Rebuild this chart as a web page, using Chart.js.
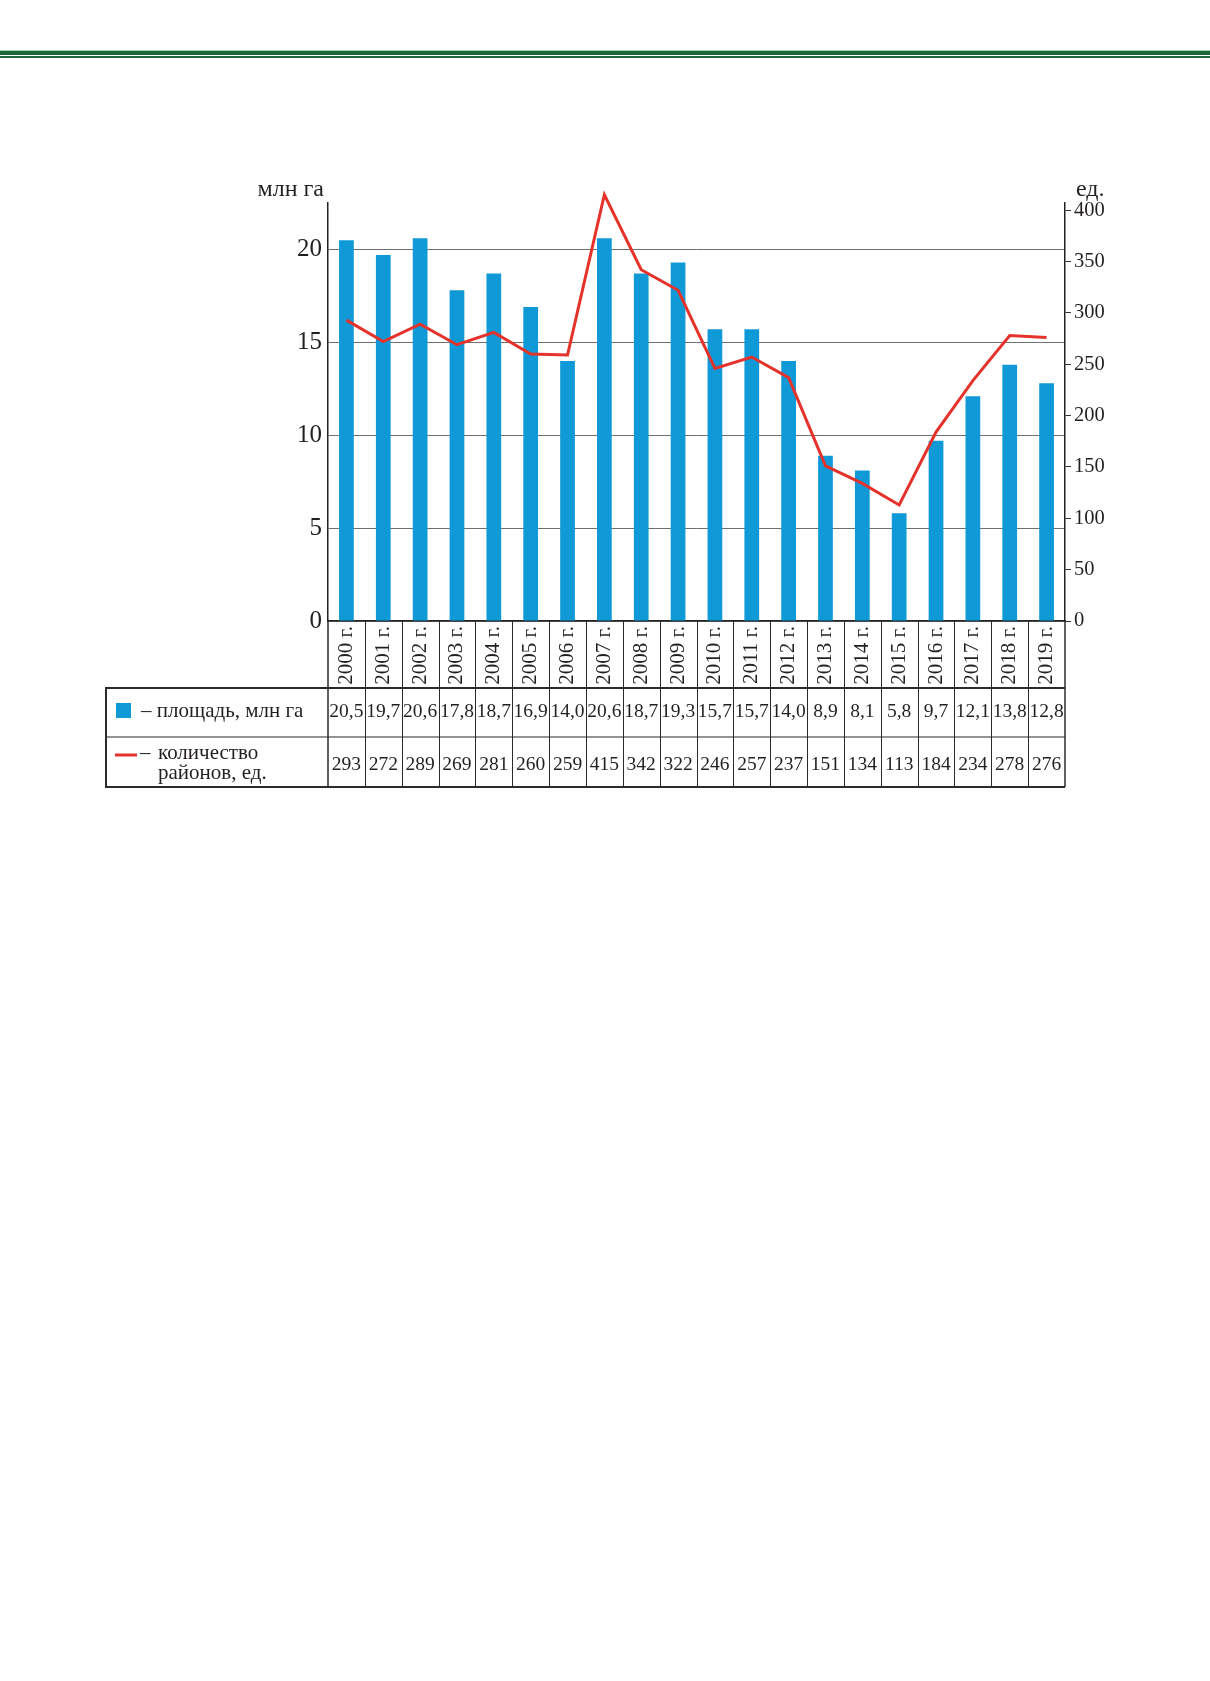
<!DOCTYPE html>
<html lang="ru">
<head>
<meta charset="utf-8">
<title>Площадь и количество районов</title>
<script src="https://cdn.jsdelivr.net/npm/chart.js@4.4.1/dist/chart.umd.min.js"></script>
<style>
  html, body { margin: 0; padding: 0; background: #fff; }
  body { width: 1210px; height: 1681px; position: relative; overflow: hidden; }
  .rule-thick { position: absolute; left: 0; top: 50px; width: 1210px; height: 4px; background: #17693b; border-top: 1px solid #9fd4ae; }
  .rule-thin { position: absolute; left: 0; top: 56px; width: 1210px; height: 2px; background: #1f6a45; }
  #wrap { position: absolute; left: 0; top: 0; width: 1210px; height: 820px; }
</style>
</head>
<body>
<div class="rule-thick"></div>
<div class="rule-thin"></div>
<div id="wrap"><canvas id="chart" width="1210" height="820"></canvas></div>
<script>
const years = [2000, 2001, 2002, 2003, 2004, 2005, 2006, 2007, 2008, 2009,
  2010, 2011, 2012, 2013, 2014, 2015, 2016, 2017, 2018, 2019];
const yearLabels = years.map((y) => `${y} г.`);
const areaValues = [20.5, 19.7, 20.6, 17.8, 18.7, 16.9, 14.0, 20.6, 18.7, 19.3,
  15.7, 15.7, 14.0, 8.9, 8.1, 5.8, 9.7, 12.1, 13.8, 12.8];
const districtCounts = [293, 272, 289, 269, 281, 260, 259, 415, 342, 322,
  246, 257, 237, 151, 134, 113, 184, 234, 278, 276];
const leftTicks = [0, 5, 10, 15, 20];
const rightTicks = [0, 50, 100, 150, 200, 250, 300, 350, 400];

const SERIF = '"Liberation Serif", "Times New Roman", serif';
const INK = "#231f20";
const BLUE = "#0f9ad7";
const RED = "#e5322a";

function fmtArea(v) {
  return v.toFixed(1).replace(".", ",");
}

// axis captions + data table under the x axis
const tablePlugin = {
  id: "tablePlugin",
  afterDraw(chart) {
    const { ctx, chartArea, scales } = chart;
    const x = scales.x;
    const step = x.getPixelForValue(1) - x.getPixelForValue(0);
    const axisY = chartArea.bottom;
    const tableTop = axisY + 67;
    const rowMid = tableTop + 49;
    const tableBottom = rowMid + 50;
    const tableLeft = 106;

    ctx.save();

    // captions above the axes
    ctx.fillStyle = INK;
    ctx.font = `24px ${SERIF}`;
    ctx.textBaseline = "alphabetic";
    ctx.textAlign = "right";
    ctx.fillText("млн га", chartArea.left - 4, 196);
    ctx.textAlign = "left";
    ctx.fillText("ед.", chartArea.right + 11, 196);

    // vertical separators
    ctx.strokeStyle = "#2b2b2b";
    ctx.lineWidth = 1;
    for (let i = 1; i < years.length; i++) {
      const px = Math.round(x.getPixelForValue(i) - step / 2) + 0.5;
      ctx.beginPath();
      ctx.moveTo(px, axisY);
      ctx.lineTo(px, tableBottom);
      ctx.stroke();
    }
    ctx.lineWidth = 1.5;
    [chartArea.left, chartArea.right].forEach((px) => {
      ctx.beginPath();
      ctx.moveTo(px, axisY);
      ctx.lineTo(px, tableBottom);
      ctx.stroke();
    });

    // horizontal rules + outer frame
    ctx.lineWidth = 1.2;
    ctx.beginPath();
    ctx.moveTo(tableLeft, rowMid);
    ctx.lineTo(chartArea.right, rowMid);
    ctx.stroke();
    ctx.lineWidth = 2;
    ctx.beginPath();
    ctx.moveTo(tableLeft, tableTop);
    ctx.lineTo(chartArea.right, tableTop);
    ctx.moveTo(tableLeft, tableBottom);
    ctx.lineTo(chartArea.right, tableBottom);
    ctx.moveTo(tableLeft, tableTop - 1);
    ctx.lineTo(tableLeft, tableBottom + 1);
    ctx.stroke();

    // legend cells
    ctx.fillStyle = BLUE;
    ctx.fillRect(116, tableTop + 15, 15, 15);
    ctx.strokeStyle = RED;
    ctx.lineWidth = 3;
    ctx.beginPath();
    ctx.moveTo(115, rowMid + 18);
    ctx.lineTo(137, rowMid + 18);
    ctx.stroke();

    ctx.fillStyle = INK;
    ctx.font = `21px ${SERIF}`;
    ctx.textAlign = "left";
    ctx.textBaseline = "middle";
    ctx.fillText("– площадь, млн га", 141, tableTop + 23);
    ctx.fillText("–", 140, rowMid + 16);
    ctx.fillText("количество", 158, rowMid + 16);
    ctx.fillText("районов, ед.", 158, rowMid + 36);

    // values
    ctx.font = `19.5px ${SERIF}`;
    ctx.textAlign = "center";
    years.forEach((_, i) => {
      const cx = x.getPixelForValue(i);
      ctx.fillText(fmtArea(areaValues[i]), cx, tableTop + 24);
      ctx.fillText(String(districtCounts[i]), cx, rowMid + 28);
    });

    ctx.restore();
  }
};

const chart = new Chart(document.getElementById("chart"), {
  type: "bar",
  data: {
    labels: yearLabels,
    datasets: [
      {
        type: "line",
        label: "количество районов, ед.",
        data: districtCounts,
        yAxisID: "y1",
        borderColor: RED,
        borderWidth: 3,
        pointRadius: 0,
        tension: 0,
        clip: false,
        order: 0
      },
      {
        type: "bar",
        label: "площадь, млн га",
        data: areaValues,
        yAxisID: "y",
        backgroundColor: BLUE,
        borderWidth: 0,
        barPercentage: 0.4,
        categoryPercentage: 1.0,
        order: 1
      }
    ]
  },
  options: {
    responsive: false,
    animation: false,
    devicePixelRatio: 1,
    layout: { padding: { top: 203, bottom: 132, left: 0, right: 0 } },
    plugins: {
      legend: { display: false },
      tooltip: { enabled: false }
    },
    scales: {
      x: {
        grid: { display: false, drawTicks: false },
        border: { display: true, color: "#222", width: 1.5 },
        ticks: {
          color: INK,
          font: { family: SERIF, size: 21 },
          minRotation: 90,
          maxRotation: 90,
          autoSkip: false,
          padding: 5
        },
        afterFit(scale) { scale.height = 67; }
      },
      y: {
        position: "left",
        min: 0,
        max: 22.5,
        afterBuildTicks(scale) { scale.ticks = leftTicks.map((v) => ({ value: v })); },
        afterFit(scale) { scale.width = 328; },
        grid: { color: "#6f6f6f", lineWidth: 1, drawTicks: false },
        border: { display: true, color: "#222", width: 1.5 },
        ticks: {
          color: INK,
          font: { family: SERIF, size: 25 },
          padding: 6
        }
      },
      y1: {
        position: "right",
        min: 0,
        max: 407,
        afterBuildTicks(scale) { scale.ticks = rightTicks.map((v) => ({ value: v })); },
        afterFit(scale) { scale.width = 145; },
        grid: { drawOnChartArea: false, drawTicks: true, tickLength: 6, color: "#333", lineWidth: 1 },
        border: { display: true, color: "#222", width: 1.5 },
        ticks: {
          color: INK,
          font: { family: SERIF, size: 20.5 },
          padding: 3
        }
      }
    }
  },
  plugins: [tablePlugin]
});
</script>
</body>
</html>
